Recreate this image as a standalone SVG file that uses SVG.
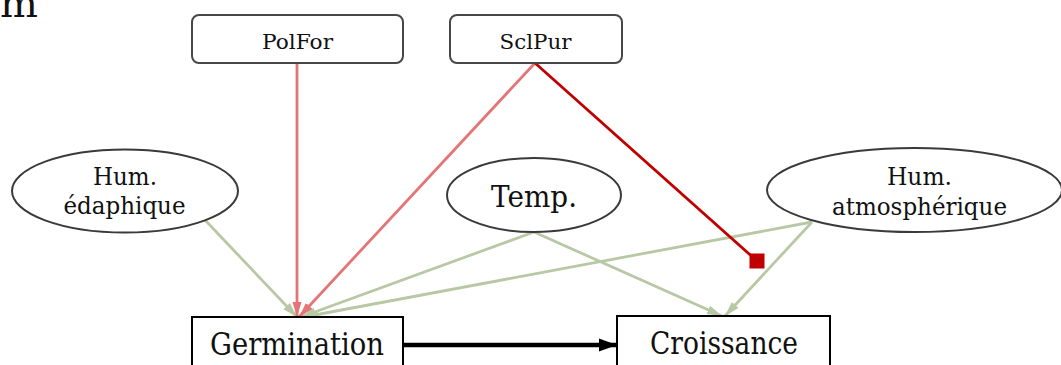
<svg xmlns="http://www.w3.org/2000/svg" width="1061" height="365" viewBox="0 0 1061 365">
<style>
text{font-family:"DejaVu Serif","Liberation Serif",serif;fill:#111;text-anchor:middle}
.rbox{fill:#fff;stroke:#474747;stroke-width:2}
.box{fill:#fff;stroke:#000;stroke-width:2}
.ell{fill:#fff;stroke:#3a3a3a;stroke-width:2}
.g{stroke:#b9c8a4;stroke-width:2.8;fill:none}
.lr{stroke:#e57575;stroke-width:2.8;fill:none}
.dr{stroke:#c00000;stroke-width:2.8;fill:none}
.bk{stroke:#000;stroke-width:4.5;fill:none}
</style>
<defs>
<marker id="ag" markerUnits="userSpaceOnUse" markerWidth="17" markerHeight="11" refX="15" refY="5.5" orient="auto"><path d="M0,1 L15,5.5 L0,10 Z" fill="#b9c8a4"/></marker>
<marker id="ar" markerUnits="userSpaceOnUse" markerWidth="17" markerHeight="11" refX="15" refY="5.5" orient="auto"><path d="M0,1 L15,5.5 L0,10 Z" fill="#e57575"/></marker>
<marker id="ab" markerUnits="userSpaceOnUse" markerWidth="20" markerHeight="14" refX="18" refY="7" orient="auto"><path d="M0,0.5 L18,7 L0,13.5 Z" fill="#000"/></marker>
<marker id="sq" markerUnits="userSpaceOnUse" markerWidth="16" markerHeight="16" refX="8" refY="8" orient="0"><rect x="0.5" y="0.5" width="15" height="15" fill="#c00000"/></marker>
</defs>
<text x="0" y="17" font-size="40" style="text-anchor:start">m</text>
<g id="connectors">
<line class="g" x1="205" y1="220" x2="297" y2="317" marker-end="url(#ag)"/>
<line class="g" x1="534" y1="232" x2="301" y2="317" marker-end="url(#ag)"/>
<line class="g" x1="534" y1="232" x2="722" y2="316" marker-end="url(#ag)"/>
<line class="g" x1="812" y1="222" x2="304" y2="317" marker-end="url(#ag)"/>
<line class="g" x1="812" y1="222" x2="725" y2="316" marker-end="url(#ag)"/>
<line class="lr" x1="297" y1="63" x2="297" y2="317" marker-end="url(#ar)"/>
<line class="lr" x1="535" y1="63" x2="299" y2="317" marker-end="url(#ar)"/>
<line class="dr" x1="535" y1="63" x2="757" y2="261" marker-end="url(#sq)"/>
<line class="bk" x1="403" y1="345" x2="617" y2="345" marker-end="url(#ab)"/>
</g>
<g id="PolFor">
<rect class="rbox" x="192" y="15" width="211" height="48" rx="7"/>
<text x="297.5" y="49" font-size="20" textLength="71" lengthAdjust="spacingAndGlyphs">PolFor</text>
</g>
<g id="SclPur">
<rect class="rbox" x="450" y="15" width="172" height="48" rx="7"/>
<text x="535.5" y="49" font-size="20" textLength="72" lengthAdjust="spacingAndGlyphs">SclPur</text>
</g>
<g id="HumEdaphique">
<ellipse class="ell" cx="125" cy="191" rx="113" ry="41.5"/>
<text x="125" y="185" font-size="24" textLength="64" lengthAdjust="spacingAndGlyphs">Hum.</text>
<text x="124.5" y="213.5" font-size="24" textLength="122" lengthAdjust="spacingAndGlyphs">édaphique</text>
</g>
<g id="Temp">
<ellipse class="ell" cx="534" cy="195" rx="87" ry="37"/>
<text x="534" y="207" font-size="29" textLength="86" lengthAdjust="spacingAndGlyphs">Temp.</text>
</g>
<g id="HumAtmospherique">
<ellipse class="ell" cx="914.5" cy="190" rx="147.5" ry="42"/>
<text x="919.5" y="185" font-size="24" textLength="65" lengthAdjust="spacingAndGlyphs">Hum.</text>
<text x="919.5" y="214.5" font-size="24" textLength="175" lengthAdjust="spacingAndGlyphs">atmosphérique</text>
</g>
<g id="Germination">
<rect class="box" x="192" y="317" width="211" height="60"/>
<text x="297" y="355" font-size="31" textLength="174" lengthAdjust="spacingAndGlyphs">Germination</text>
</g>
<g id="Croissance">
<rect class="box" x="617" y="316" width="213" height="60"/>
<text x="724" y="354" font-size="31" textLength="148" lengthAdjust="spacingAndGlyphs">Croissance</text>
</g>
</svg>
